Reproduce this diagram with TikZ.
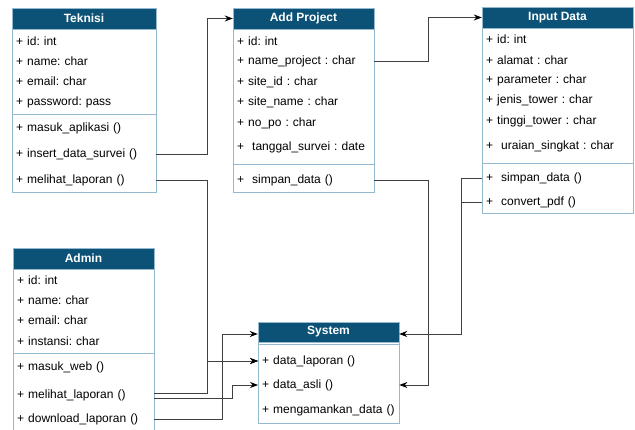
\documentclass[tikz,border=0pt]{standalone}
\usepackage{fontspec}
\setmainfont{Liberation Sans}
\usepackage{xcolor}
\usetikzlibrary{arrows.meta}
\definecolor{hdrblue}{RGB}{12,82,118}
\definecolor{frameblue}{RGB}{150,185,210}
\definecolor{linkgray}{RGB}{64,64,64}
\frenchspacing

\begin{document}
\begin{tikzpicture}[x=1pt,y=-1pt,
  font=\fontsize{12}{14}\selectfont,
  hdr/.style={fill=hdrblue,draw=frameblue,text=white,font=\fontsize{12}{14}\selectfont\bfseries,minimum height=21pt,inner sep=0pt},
  attr/.style={anchor=west,inner xsep=4pt,inner ysep=0pt,align=left},
  boxline/.style={draw=frameblue,line width=0.8pt},
  link/.style={draw=linkgray,line width=0.8pt,-{Stealth[length=8pt,width=6pt,black]}},
  wire/.style={draw=linkgray,line width=0.8pt}]
\useasboundingbox (0,0) rectangle (635,430);
\clip (0,0) rectangle (635,430);

\draw[boxline] (12,8) rectangle (156,192);
\draw[boxline] (12,114) -- (156,114);
\node[hdr,minimum width=144pt] (tek) at (84,18.5) {Teknisi};
\node[attr,text width=136pt] (tek-id) at (12,41) {+ id: int};
\node[attr,text width=136pt] (tek-name) at (12,61) {+ name: char};
\node[attr,text width=136pt] (tek-email) at (12,81) {+ email: char};
\node[attr,text width=136pt] (tek-pass) at (12,102) {+ password: pass};
\node[attr,text width=136pt] (tek-masuk) at (12,128) {+ masuk\_aplikasi ()};
\node[attr,text width=136pt] (tek-insert) at (12,154) {+ insert\_data\_survei ()};
\node[attr,text width=136pt] (tek-melihat) at (12,180) {+ melihat\_laporan ()};

\draw[boxline] (233,8) rectangle (374,192);
\draw[boxline] (233,164) -- (374,164);
\node[hdr,minimum width=141pt] (addp) at (303.5,18.5) {Add Project};
\node[attr,text width=133pt] (addp-id) at (233,41) {+ id: int};
\node[attr,text width=133pt] (addp-name) at (233,61) {+ name\_project : char};
\node[attr,text width=133pt] (addp-site) at (233,82) {+ site\_id : char};
\node[attr,text width=133pt] (addp-sitename) at (233,102) {+ site\_name : char};
\node[attr,text width=133pt] (addp-po) at (233,123) {+ no\_po : char};
\node[attr,text width=133pt] (addp-tanggal) at (233,147) {+~ tanggal\_survei : date};
\node[attr,text width=133pt] (addp-simpan) at (233,180) {+~ simpan\_data ()};

\draw[boxline] (482,7) rectangle (633,213);
\draw[boxline] (482,163) -- (633,163);
\node[hdr,minimum width=151pt] (inp) at (557.5,17.5) {Input Data};
\node[attr,text width=143pt] (inp-id) at (482,39) {+ id: int};
\node[attr,text width=143pt] (inp-alamat) at (482,60) {+ alamat : char};
\node[attr,text width=143pt] (inp-param) at (482,80) {+ parameter : char};
\node[attr,text width=143pt] (inp-jenis) at (482,100) {+ jenis\_tower : char};
\node[attr,text width=143pt] (inp-tinggi) at (482,121) {+ tinggi\_tower : char};
\node[attr,text width=143pt] (inp-uraian) at (482,146) {+~ uraian\_singkat : char};
\node[attr,text width=143pt] (inp-simpan) at (482,178) {+~ simpan\_data ()};
\node[attr,text width=143pt] (inp-convert) at (482,202) {+~ convert\_pdf ()};

\draw[boxline] (13,432) |- (154,248) -- (154,432);
\draw[boxline] (13,353) -- (154,353);
\node[hdr,minimum width=141pt] (adm) at (83.5,258.5) {Admin};
\node[attr,text width=133pt] (adm-id) at (13,280) {+ id: int};
\node[attr,text width=133pt] (adm-name) at (13,300) {+ name: char};
\node[attr,text width=133pt] (adm-email) at (13,320) {+ email: char};
\node[attr,text width=133pt] (adm-instansi) at (13,341) {+ instansi: char};
\node[attr,text width=133pt] (adm-masuk) at (13,367) {+ masuk\_web ()};
\node[attr,text width=133pt] (adm-melihat) at (13,395) {+ melihat\_laporan ()};
\node[attr,text width=133pt] (adm-download) at (13,419) {+ download\_laporan ()};

\draw[boxline] (258,322) rectangle (399,423);
\draw[boxline] (258,344.5) -- (399,344.5);
\node[hdr,minimum width=141pt,minimum height=20pt] (sys) at (328.5,332) {System};
\node[attr,text width=133pt] (sys-laporan) at (258,361) {+ data\_laporan ()};
\node[attr,text width=133pt] (sys-asli) at (258,385) {+ data\_asli ()};
\node[attr,text width=133pt] (sys-aman) at (258,410) {+ mengamankan\_data ()};

\draw[link] (tek-insert.east) -- ++(51,0) |- (addp.west);
\draw[link] (tek-melihat.east) -- ++(51,0) |- (sys-laporan.west);
\draw[link] ([yshift=2pt]adm-melihat.east) -- ++(53,0) |- (sys-laporan.west);
\draw[link] ([yshift=-3pt]adm-melihat.east) -- ++(78,0) |- (sys-asli.west);
\draw[link] (adm-download.east) -- ++(68,0) |- ([yshift=-2pt]sys.west);
\draw[link] (addp-simpan.east) -- ++(54,0) |- (sys-asli.east);
\draw[link] (addp-name.east) -- ++(54,0) |- (inp.west);
\draw[link] (inp-simpan.west) -- ++(-21,0) |- ([yshift=-2pt]sys.east);
\draw[wire] (inp-convert.west) -- ++(-21,0);
\end{tikzpicture}
\end{document}
